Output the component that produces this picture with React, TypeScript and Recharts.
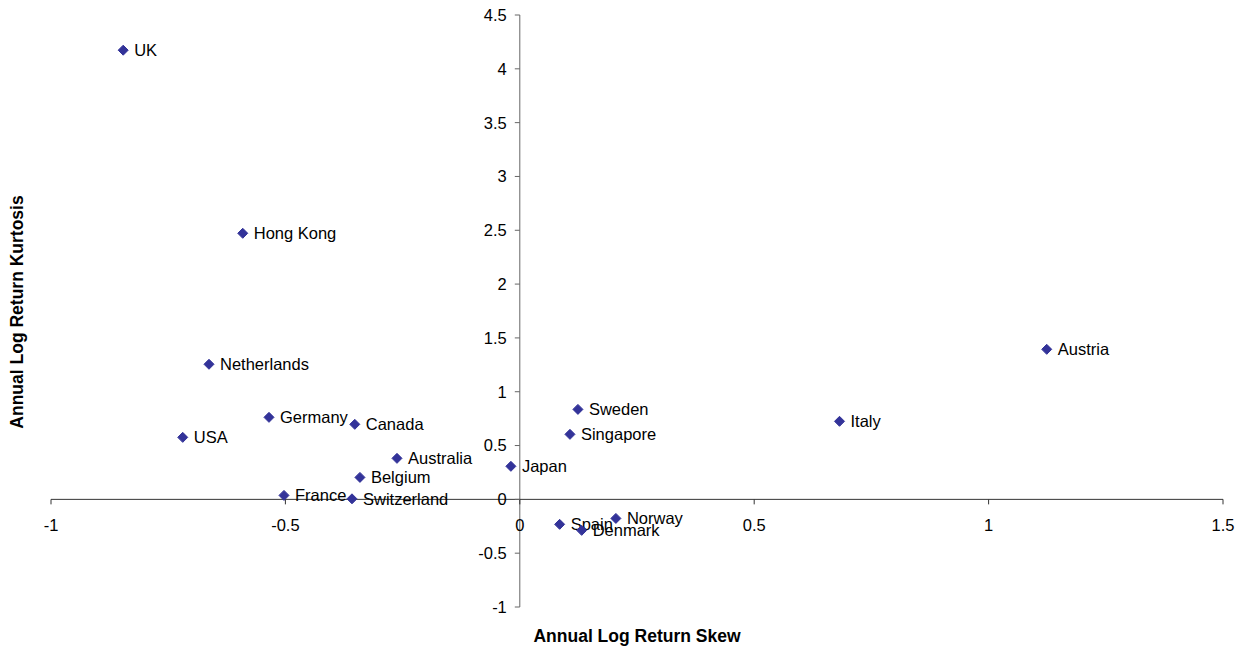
import React from "react";
import { ScatterChart, Scatter, XAxis, YAxis, ReferenceLine, ReferenceDot } from "recharts";

const countries = ["UK", "Hong Kong", "Netherlands", "Germany", "USA", "Canada", "Australia", "Belgium", "France", "Switzerland", "Japan", "Sweden", "Singapore", "Spain", "Denmark", "Norway", "Italy", "Austria"];
const skew = [-0.846, -0.591, -0.663, -0.535, -0.719, -0.352, -0.262, -0.341, -0.503, -0.358, -0.019, 0.124, 0.107, 0.085, 0.132, 0.205, 0.682, 1.124];
const kurtosis = [4.173, 2.472, 1.255, 0.762, 0.576, 0.697, 0.381, 0.204, 0.037, 0.005, 0.307, 0.836, 0.604, -0.232, -0.288, -0.177, 0.725, 1.394];
const xTicks = [-1, -0.5, 0, 0.5, 1, 1.5];
const yTicks = [-1, -0.5, 0, 0.5, 1, 1.5, 2, 2.5, 3, 3.5, 4, 4.5];

const data = countries.map((name, i) => ({ name, x: skew[i], y: kurtosis[i] }));

const FONT = '"Liberation Sans", Arial, sans-serif';
const MARK = "#333399";

const PointShape = (props: any) => {
  const { cx, cy, payload } = props;
  const r = 5;
  return (
    <g>
      <path d={`M${cx},${cy - r} L${cx + r},${cy} L${cx},${cy + r} L${cx - r},${cy} Z`} fill={MARK} stroke={MARK} />
      <text x={cx + 11} y={cy} dy="0.36em" fontSize={16.5} fontFamily={FONT} fill="#000">
        {payload.name}
      </text>
    </g>
  );
};

const XTickShape = (label: string) => (props: any) => {
  const { cx, cy } = props;
  return (
    <g>
      <line x1={cx} y1={cy} x2={cx} y2={cy + 5} stroke="#333" strokeWidth={1} />
      <text x={cx} y={cy + 26} dy="0.36em" textAnchor="middle" fontSize={16.5} fontFamily={FONT} fill="#000">
        {label}
      </text>
    </g>
  );
};

const YTickShape = (label: string) => (props: any) => {
  const { cx, cy } = props;
  return (
    <g>
      <line x1={cx - 5} y1={cy} x2={cx} y2={cy} stroke="#666" strokeWidth={1} />
      <text x={cx - 13} y={cy} dy="0.36em" textAnchor="end" fontSize={16.5} fontFamily={FONT} fill="#000">
        {label}
      </text>
    </g>
  );
};

export default function App() {
  return (
    <div style={{ position: "absolute", left: 0, top: 0, width: 1244, height: 650, background: "#fff", fontFamily: FONT }}>
      <ScatterChart width={1244} height={650} margin={{ top: 15, right: 21, bottom: 43, left: 51 }}>
        <XAxis type="number" dataKey="x" domain={[-1, 1.5]} hide />
        <YAxis type="number" dataKey="y" domain={[-1, 4.5]} hide />
        <ReferenceLine x={0} stroke="#666" strokeWidth={1} ifOverflow="visible" />
        {xTicks.map((v) => (
          <ReferenceDot key={"x" + v} x={v} y={0} ifOverflow="visible" shape={XTickShape(String(v))} />
        ))}
        {yTicks.map((v) => (
          <ReferenceDot key={"y" + v} x={0} y={v} ifOverflow="visible" shape={YTickShape(String(v))} />
        ))}
        <Scatter data={data} shape={PointShape} isAnimationActive={false} />
        <ReferenceLine y={0} stroke="#333" strokeWidth={1} ifOverflow="visible" />
      </ScatterChart>
      <div style={{ position: "absolute", left: 0, width: 1274, top: 626, textAlign: "center", fontWeight: "bold", fontSize: 17.5 }}>
        Annual Log Return Skew
      </div>
      <div
        style={{
          position: "absolute",
          left: 17,
          top: 312,
          transform: "translate(-50%, -50%) rotate(-90deg)",
          whiteSpace: "nowrap",
          fontWeight: "bold",
          fontSize: 17.5,
        }}
      >
        Annual Log Return Kurtosis
      </div>
    </div>
  );
}
